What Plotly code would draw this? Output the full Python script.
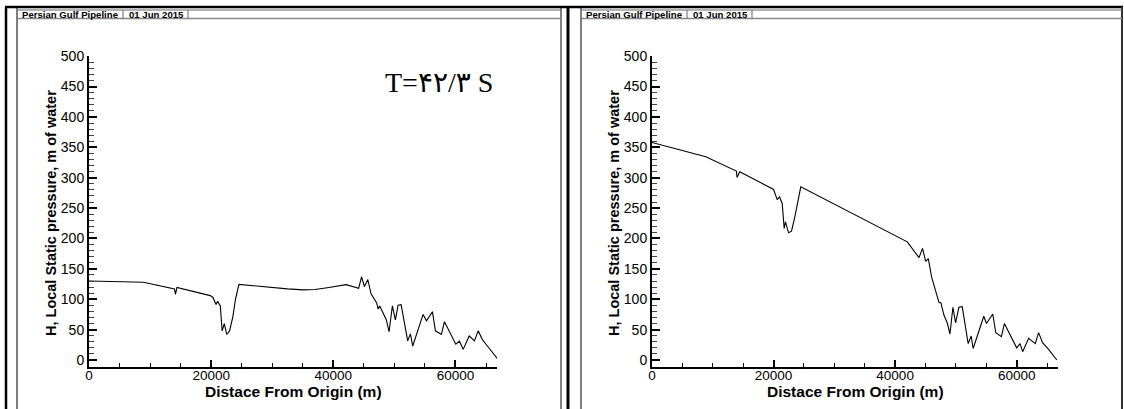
import plotly.graph_objects as go

W, H = 1124, 409

# ---- data ----
x_transient = [0, 8900, 14000, 14150, 14400, 19850, 20300, 20800, 21050, 21500, 21800, 22150,
               22550, 23000, 23550, 24000, 24550, 29700, 32500, 35100, 37000, 39000, 42100,
               44150, 44620, 45100, 45650, 46180, 47100, 47330, 47600, 48690, 49130, 49670,
               50160, 50600, 51100, 52180, 52620, 53000, 54700, 55250, 56230, 56720, 57700,
               58200, 60050, 60660, 61260, 62250, 63110, 63720, 64380, 65190, 66840]
h_transient = [130, 128, 117, 108, 119.5, 106, 103, 91.5, 96.5, 89, 48, 60,
               42, 47.5, 71, 101, 124.5, 119, 117, 115.5, 116, 119, 124,
               118, 137, 121, 132.5, 109, 94, 84, 89, 66, 46.5, 89,
               66, 90, 91, 31.5, 43, 23, 75, 64.5, 79.5, 48, 42,
               63, 26, 31, 17.5, 39.5, 31.5, 48, 34, 23.5, 2.7]

x_steady = [0, 8850, 13880, 14000, 14430, 20000, 20600, 20980, 21420, 21750, 21970, 22460,
            22950, 23500, 24480, 42000, 43930, 44510, 45030, 45460, 46010, 46940, 47210,
            47540, 48030, 48580, 49020, 49510, 49950, 50490, 51040, 52020, 52510, 52840,
            54590, 55030, 56070, 56560, 57490, 57980, 60000, 60550, 60980, 61970, 63060,
            63610, 64260, 65250, 66610]
h_steady = [358, 334.5, 311, 300.5, 309.7, 280.7, 264, 268.6, 257.6, 216.6, 227.5, 209.4,
            212, 235.7, 285, 194.5, 168.5, 183.7, 162.3, 167, 136.5, 107, 95,
            94, 74, 61, 42.8, 86.7, 61, 86.7, 87.7, 27, 39.5, 19,
            72, 60, 75.7, 45, 38.4, 60, 20, 27, 13.7, 35.7, 27,
            45, 28.5, 17.6, 0]

header_title = "Persian Gulf Pipeline"
header_date = "01 Jun 2015"
x_title = "Distace From Origin (m)"
y_title = "H, Local Static pressure, m of water"
time_label = "T=۴۲/۳ S"

x_range = [0, 66800]
y_range = [-11.5, 500.3]


def px(x):
    return x / W


def py(y):
    return 1 - y / H


fig = go.Figure()
fig.add_trace(go.Scatter(x=x_transient, y=h_transient, mode="lines",
                         line=dict(color="black", width=1.1), xaxis="x", yaxis="y",
                         showlegend=False))
fig.add_trace(go.Scatter(x=x_steady, y=h_steady, mode="lines",
                         line=dict(color="black", width=1.1), xaxis="x2", yaxis="y2",
                         showlegend=False))

tickfont = dict(family="Liberation Sans, Arial", size=14, color="black")
common_x = dict(range=x_range, showgrid=False, zeroline=False, showline=True,
                linecolor="black", linewidth=2, ticks="inside", ticklen=7, tickwidth=2,
                tickcolor="black", dtick=20000, tick0=0, tickformat="d",
                tickfont=dict(tickfont, size=13.5), ticklabelstandoff=-5,
                minor=dict(ticks="inside", dtick=5000, ticklen=4, tickwidth=1, tickcolor="black"))
common_y = dict(range=y_range, showgrid=False, zeroline=False, showline=True,
                linecolor="black", linewidth=2, ticks="inside", ticklen=8, tickwidth=2,
                tickcolor="black", dtick=50, tick0=0, tickformat="d", tickfont=tickfont,
                minor=dict(ticks="inside", dtick=10, ticklen=5, tickwidth=1, tickcolor="#444"))

yd = [py(367), py(56)]
fig.update_layout(
    width=W, height=H, margin=dict(l=0, r=0, t=0, b=0, autoexpand=False),
    paper_bgcolor="white", plot_bgcolor="white",
    xaxis=dict(common_x, domain=[px(89), px(497)], anchor="y"),
    yaxis=dict(common_y, domain=yd, anchor="x"),
    xaxis2=dict(common_x, domain=[px(652), px(1058)], anchor="y2"),
    yaxis2=dict(common_y, domain=yd, anchor="x2"),
)

shapes = []


def line(x0, y0, x1, y1, w=1, c="black"):
    shapes.append(dict(type="line", xref="paper", yref="paper",
                       x0=px(x0), y0=py(y0), x1=px(x1), y1=py(y1),
                       line=dict(color=c, width=w)))


# outer frame
line(5, 7, 1123, 7, 2.5)
line(6, 7, 6, 409, 2.5)
line(17, 7, 17, 409, 1)
line(561, 7, 561, 409, 1)
line(568, 7, 568, 409, 3)
line(581, 7, 581, 409, 1)
line(1122, 7, 1122, 409, 2, "#333")

annotations = []
for left, right in [(18, 561), (582, 1122)]:
    line(left, 10, right, 10, 1, "#666")
    line(left, 18.5, right, 18.5, 1.5, "#888")
    line(left + 105, 10, left + 105, 18.5, 1, "#666")
    line(left + 170, 10, left + 170, 18.5, 1, "#666")
    annotations.append(dict(x=px(left + 1.5), y=py(14.5), xref="paper", yref="paper",
                            text="<b>" + header_title + "</b>", showarrow=False,
                            xanchor="left", yanchor="middle",
                            font=dict(family="Liberation Sans, Arial", size=9.6, color="black")))
    annotations.append(dict(x=px(left + 109), y=py(14.5), xref="paper", yref="paper",
                            text="<b>" + header_date + "</b>", showarrow=False,
                            xanchor="left", yanchor="middle",
                            font=dict(family="Liberation Sans, Arial", size=9.6, color="black")))

for x0, x1 in [(89, 497), (652, 1058)]:
    annotations.append(dict(x=px((x0 + x1) / 2), y=py(391), xref="paper", yref="paper",
                            text="<b>" + x_title + "</b>", showarrow=False,
                            xanchor="center", yanchor="middle",
                            font=dict(family="Liberation Sans, Arial", size=15.5, color="black")))
    annotations.append(dict(x=px(x0 - 38), y=py(213), xref="paper", yref="paper",
                            text="<b>" + y_title + "</b>", showarrow=False, textangle=-90,
                            xanchor="center", yanchor="middle",
                            font=dict(family="Liberation Sans, Arial", size=14.5, color="black")))

annotations.append(dict(x=px(383), y=py(82), xref="paper", yref="paper",
                        text=time_label, showarrow=False, xanchor="left", yanchor="middle",
                        font=dict(family="Liberation Serif, DejaVu Sans", size=28, color="black")))

fig.update_layout(shapes=shapes, annotations=annotations)
fig.write_html("out.html", config={"displayModeBar": False},
               post_script="document.body.style.margin='0';document.body.style.overflow='hidden';")
